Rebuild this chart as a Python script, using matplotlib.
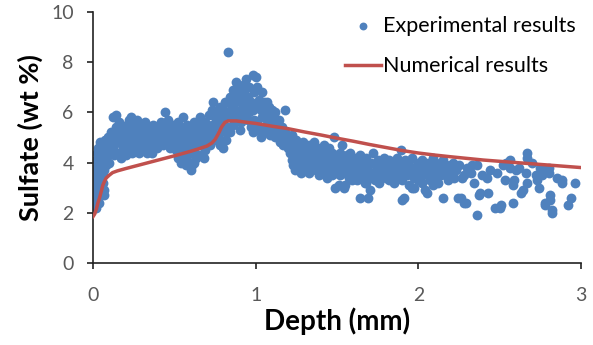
import numpy as np
import matplotlib
matplotlib.use("Agg")
import matplotlib.pyplot as plt

exp_points = [
    # 0 - 0.1 mm
    (0.00, 2.3), (0.005, 2.6), (0.01, 2.9), (0.01, 3.4), (0.015, 2.2), (0.015, 3.8),
    (0.02, 3.1), (0.02, 4.1), (0.02, 3.6), (0.025, 4.4), (0.025, 2.7), (0.03, 3.3),
    (0.03, 3.9), (0.03, 4.6), (0.035, 2.4), (0.035, 3.0), (0.04, 4.2), (0.04, 3.6),
    (0.04, 4.8), (0.045, 3.3), (0.045, 4.0), (0.05, 2.7), (0.05, 4.5), (0.05, 3.8),
    (0.055, 4.3), (0.06, 3.5), (0.06, 4.7), (0.06, 4.0), (0.065, 2.9), (0.07, 2.7),
    (0.07, 4.4), (0.07, 3.7), (0.075, 4.9), (0.08, 4.2), (0.08, 3.9), (0.085, 4.6),
    (0.09, 4.3), (0.09, 5.0), (0.095, 4.0), (0.1, 4.5), (0.1, 4.8), (0.03, 4.3),
    (0.05, 4.1), (0.06, 3.2), (0.04, 2.9),
    # 0.1 - 0.5 mm
    (0.11, 5.2), (0.12, 5.8), (0.12, 4.6), (0.13, 5.0), (0.13, 4.3), (0.14, 5.4),
    (0.14, 4.8), (0.15, 5.1), (0.15, 4.4), (0.16, 5.6), (0.16, 4.9), (0.17, 4.2),
    (0.17, 5.3), (0.18, 5.4), (0.18, 4.7), (0.19, 5.0), (0.19, 4.5), (0.2, 5.2),
    (0.2, 4.3), (0.21, 5.5), (0.21, 4.9), (0.22, 5.7), (0.22, 4.6), (0.23, 5.8),
    (0.23, 5.1), (0.24, 5.3), (0.24, 4.4), (0.25, 5.6), (0.25, 4.8), (0.26, 5.0),
    (0.26, 5.4), (0.27, 4.6), (0.27, 5.7), (0.28, 4.4), (0.28, 5.2), (0.29, 4.9),
    (0.29, 5.5), (0.3, 5.1), (0.3, 4.7), (0.31, 5.3), (0.31, 4.5), (0.32, 5.6),
    (0.32, 4.9), (0.33, 5.0), (0.33, 4.4), (0.34, 5.2), (0.34, 4.7), (0.35, 5.4),
    (0.35, 4.5), (0.36, 4.9), (0.36, 4.4), (0.37, 5.1), (0.37, 5.5), (0.38, 4.8),
    (0.38, 5.3), (0.39, 4.6), (0.39, 5.0), (0.4, 5.2), (0.4, 4.8), (0.41, 5.4),
    (0.41, 4.9), (0.42, 5.6), (0.42, 5.1), (0.43, 5.3), (0.43, 4.7), (0.44, 6.0),
    (0.44, 5.5), (0.45, 5.2), (0.45, 4.9), (0.46, 5.7), (0.46, 5.0), (0.47, 5.4),
    (0.47, 4.6), (0.48, 5.1), (0.48, 4.8), (0.49, 4.9), (0.49, 5.5), (0.5, 5.3),
    (0.5, 4.7), (0.14, 5.9),
    # 0.5 - 0.75 mm
    (0.51, 5.0), (0.51, 4.5), (0.52, 5.6), (0.52, 4.2), (0.53, 5.2), (0.53, 4.8),
    (0.54, 5.4), (0.54, 4.0), (0.55, 5.8), (0.55, 4.2), (0.55, 5.0), (0.56, 4.6),
    (0.56, 5.3), (0.57, 4.9), (0.57, 4.4), (0.58, 4.1), (0.58, 5.5), (0.59, 4.7),
    (0.59, 5.1), (0.6, 3.7), (0.6, 4.4), (0.6, 5.3), (0.61, 3.9), (0.61, 4.9),
    (0.62, 5.6), (0.62, 4.6), (0.63, 5.2), (0.63, 4.2), (0.64, 5.0), (0.64, 5.5),
    (0.65, 4.7), (0.65, 4.3), (0.66, 5.8), (0.66, 5.1), (0.67, 4.9), (0.67, 5.4),
    (0.68, 4.2), (0.68, 5.0), (0.69, 4.5), (0.69, 5.6), (0.7, 5.2), (0.7, 4.8),
    (0.71, 5.4), (0.71, 5.9), (0.72, 5.0), (0.72, 4.7), (0.73, 5.5), (0.73, 6.1),
    (0.74, 6.4), (0.74, 5.2), (0.75, 5.8), (0.75, 4.9), (0.62, 4.0), (0.57, 3.9),
    # 0.75 - 1.0 mm
    (0.76, 5.5), (0.76, 6.0), (0.77, 5.0), (0.77, 5.7), (0.78, 4.7), (0.78, 6.2),
    (0.79, 5.3), (0.79, 5.9), (0.8, 4.6), (0.8, 6.1), (0.8, 5.6), (0.81, 5.2),
    (0.81, 6.4), (0.82, 5.8), (0.82, 4.9), (0.83, 8.4), (0.83, 6.0), (0.83, 5.4),
    (0.84, 5.2), (0.84, 6.6), (0.85, 5.9), (0.85, 6.3), (0.86, 5.5), (0.86, 6.9),
    (0.87, 6.1), (0.87, 5.7), (0.88, 7.2), (0.88, 6.4), (0.89, 5.8), (0.89, 6.7),
    (0.9, 6.0), (0.9, 7.0), (0.91, 5.6), (0.91, 6.5), (0.92, 6.2), (0.92, 7.1),
    (0.93, 5.9), (0.93, 6.8), (0.94, 7.35), (0.94, 6.3), (0.95, 5.7), (0.95, 6.6),
    (0.96, 6.0), (0.96, 7.0), (0.97, 5.4), (0.97, 6.4), (0.98, 7.5), (0.98, 5.2),
    (0.98, 6.1), (0.99, 6.8), (0.99, 5.7), (1.0, 7.4), (1.0, 6.3), (1.0, 5.5),
    (0.9, 5.3),
    # 1.0 - 1.2 mm
    (1.01, 5.6), (1.01, 7.0), (1.02, 6.5), (1.02, 5.3), (1.03, 6.1), (1.03, 5.0),
    (1.04, 6.8), (1.04, 5.8), (1.05, 6.4), (1.05, 5.4), (1.06, 6.0), (1.06, 5.2),
    (1.07, 6.4), (1.07, 5.7), (1.08, 6.2), (1.08, 5.5), (1.09, 5.9), (1.09, 5.1),
    (1.1, 6.1), (1.1, 5.6), (1.11, 5.3), (1.11, 5.8), (1.12, 6.0), (1.12, 5.0),
    (1.13, 5.5), (1.13, 5.2), (1.14, 5.0), (1.14, 5.7), (1.15, 5.3), (1.15, 4.8),
    (1.16, 5.4), (1.17, 5.1), (1.17, 4.7), (1.18, 6.1), (1.18, 5.2), (1.19, 4.9),
    (1.2, 4.6), (1.2, 5.0),
    # 1.2 - 1.5 mm
    (1.21, 4.8), (1.21, 4.4), (1.22, 5.1), (1.22, 4.1), (1.23, 4.6), (1.23, 3.9),
    (1.24, 4.2), (1.24, 3.7), (1.25, 4.9), (1.25, 4.4), (1.26, 4.0), (1.26, 4.7),
    (1.27, 3.8), (1.27, 4.3), (1.28, 4.5), (1.28, 3.6), (1.29, 4.1), (1.29, 4.8),
    (1.3, 3.7), (1.3, 4.4), (1.31, 4.0), (1.31, 4.6), (1.32, 3.9), (1.32, 4.3),
    (1.33, 4.7), (1.33, 3.6), (1.34, 4.2), (1.34, 4.5), (1.35, 3.8), (1.35, 4.0),
    (1.36, 4.8), (1.36, 4.4), (1.37, 3.7), (1.37, 4.1), (1.38, 4.6), (1.38, 3.9),
    (1.39, 4.3), (1.39, 3.5), (1.4, 4.0), (1.4, 4.5), (1.41, 3.8), (1.41, 4.2),
    (1.42, 4.7), (1.42, 3.6), (1.43, 4.1), (1.43, 3.9), (1.44, 4.4), (1.44, 3.4),
    (1.45, 4.0), (1.45, 4.6), (1.46, 3.7), (1.46, 4.2), (1.47, 3.5), (1.47, 4.4),
    (1.48, 5.0), (1.48, 3.9), (1.49, 3.0), (1.49, 4.1), (1.5, 3.6), (1.5, 4.3),
    # 1.5 - 2.0 mm
    (1.51, 3.1), (1.51, 4.0), (1.52, 3.5), (1.52, 4.4), (1.53, 4.7), (1.53, 3.8),
    (1.54, 3.0), (1.54, 4.1), (1.55, 3.1), (1.55, 3.6), (1.56, 4.3), (1.56, 3.9),
    (1.57, 3.4), (1.57, 4.0), (1.58, 3.7), (1.58, 4.4), (1.59, 3.3), (1.59, 4.1),
    (1.6, 3.8), (1.6, 3.5), (1.61, 4.2), (1.61, 3.6), (1.62, 3.9), (1.62, 3.3),
    (1.63, 4.0), (1.63, 3.6), (1.64, 2.6), (1.64, 4.3), (1.65, 3.4), (1.65, 3.8),
    (1.66, 4.1), (1.66, 3.5), (1.67, 3.2), (1.67, 3.9), (1.68, 3.2), (1.68, 4.2),
    (1.69, 2.6), (1.69, 3.7), (1.7, 2.9), (1.7, 3.4), (1.71, 4.0), (1.72, 4.4),
    (1.72, 3.6), (1.73, 3.3), (1.74, 3.9), (1.74, 3.5), (1.75, 4.1), (1.76, 3.2),
    (1.76, 3.7), (1.77, 4.0), (1.78, 3.5), (1.78, 3.8), (1.79, 4.2), (1.8, 3.4),
    (1.8, 3.9), (1.81, 3.6), (1.82, 4.1), (1.82, 3.3), (1.83, 3.8), (1.84, 3.5),
    (1.85, 4.0), (1.85, 3.2), (1.86, 3.7), (1.87, 4.2), (1.87, 3.4), (1.88, 3.9),
    (1.89, 4.5), (1.89, 3.6), (1.9, 2.5), (1.9, 3.3), (1.91, 2.6), (1.91, 3.8),
    (1.92, 4.1), (1.93, 3.5), (1.94, 3.9), (1.94, 3.1), (1.95, 3.7), (1.96, 3.0),
    (1.96, 4.2), (1.97, 3.0), (1.97, 3.4), (1.98, 3.8), (1.99, 3.6), (2.0, 4.0),
    (2.0, 3.3),
    # 2.0 - 3.0 mm
    (2.01, 3.7), (2.02, 3.2), (2.02, 4.1), (2.03, 3.5), (2.04, 3.9), (2.04, 2.9),
    (2.05, 2.8), (2.05, 3.6), (2.06, 4.0), (2.07, 3.3), (2.07, 3.8), (2.08, 3.5),
    (2.09, 4.2), (2.09, 3.1), (2.1, 3.7), (2.11, 3.4), (2.11, 4.0), (2.12, 3.2),
    (2.13, 3.8), (2.14, 3.5), (2.15, 2.6), (2.15, 4.1), (2.16, 3.6), (2.17, 3.9),
    (2.18, 3.3), (2.19, 3.6), (2.2, 3.9), (2.21, 4.0), (2.22, 3.4), (2.23, 3.7),
    (2.24, 2.6), (2.25, 3.9), (2.26, 2.6), (2.27, 3.4), (2.28, 2.4), (2.28, 3.5),
    (2.29, 2.4), (2.3, 3.8), (2.32, 3.6), (2.33, 3.9), (2.34, 3.2), (2.36, 1.9),
    (2.36, 3.9), (2.37, 2.7), (2.38, 2.8), (2.39, 3.5), (2.42, 3.4), (2.43, 2.8),
    (2.44, 3.7), (2.47, 2.2), (2.48, 3.6), (2.5, 2.2), (2.51, 2.3), (2.52, 3.9),
    (2.53, 3.3), (2.54, 4.0), (2.56, 4.1), (2.56, 3.8), (2.58, 3.1), (2.58, 2.4),
    (2.59, 3.3), (2.6, 3.7), (2.62, 3.8), (2.63, 2.8), (2.64, 2.9), (2.66, 3.6),
    (2.67, 4.4), (2.67, 4.2), (2.67, 3.2), (2.7, 4.0), (2.72, 3.5), (2.73, 3.3),
    (2.74, 3.0), (2.75, 3.8), (2.76, 3.5), (2.78, 3.7), (2.78, 2.4), (2.78, 2.3),
    (2.8, 3.8), (2.8, 3.6), (2.81, 2.7), (2.81, 2.5), (2.82, 2.1), (2.82, 2.0),
    (2.85, 3.4), (2.88, 3.3), (2.88, 3.2), (2.92, 2.3), (2.94, 2.6), (2.96, 3.2),
]

# model curve
num_depth = [0.0, 0.01, 0.02, 0.03, 0.04, 0.05, 0.06, 0.07, 0.08, 0.1, 0.12, 0.15,
             0.2, 0.3, 0.4, 0.5, 0.6, 0.65, 0.7, 0.73, 0.75, 0.77, 0.79, 0.81, 0.83,
             0.88, 0.95, 1.0, 1.1, 1.2, 1.3, 1.4, 1.5, 1.6, 1.7, 1.8, 1.9, 2.0, 2.1,
             2.2, 2.4, 2.6, 2.8, 3.0]
num_sulfate = [1.85, 1.95, 2.15, 2.4, 2.6, 2.85, 3.1, 3.25, 3.38, 3.5, 3.6, 3.67,
               3.76, 3.93, 4.1, 4.27, 4.45, 4.55, 4.66, 4.78, 4.92, 5.15, 5.42, 5.6, 5.66,
               5.66, 5.6, 5.56, 5.45, 5.35, 5.22, 5.1, 4.97, 4.85, 4.72, 4.6, 4.48, 4.38, 4.3,
               4.23, 4.1, 4.0, 3.9, 3.8]

xticks = [0, 1, 2, 3]
yticks = [0, 2, 4, 6, 8, 10]

plt.rcParams['font.family'] = ['Lato', 'DejaVu Sans']

pts = np.array(exp_points)
fig = plt.figure(figsize=(5.93, 3.45), dpi=100)
ax = fig.add_axes([0.157, 0.238, 0.823, 0.727])

ax.scatter(pts[:, 0], pts[:, 1], s=50, color='#4F81BD', linewidths=0,
           label='Experimental results', zorder=2)
ax.plot(num_depth, num_sulfate, color='#C0504D', lw=2.5, label='Numerical results', zorder=3)

ax.set_xlim(0, 3)
ax.set_ylim(0, 10)
ax.set_xticks(xticks)
ax.set_yticks(yticks)
for s in ['top', 'right']:
    ax.spines[s].set_visible(False)
for s in ['left', 'bottom']:
    ax.spines[s].set_color('#222222')
    ax.spines[s].set_linewidth(1.2)
ax.tick_params(direction='out', length=4, width=1.2, color='#222222',
               labelsize=14, labelcolor='#595959')
ax.tick_params(axis='x', pad=13)
ax.tick_params(axis='y', pad=10)

ax.set_xlabel('Depth (mm)', fontsize=20, fontweight='bold', labelpad=3)
ax.set_ylabel('Sulfate (wt %)', fontsize=19.5, fontweight='bold', labelpad=6)

leg = fig.legend(loc='upper left', bbox_to_anchor=(345 / 593, 1 - 16 / 345),
                 frameon=False, fontsize=15.5, borderpad=0, borderaxespad=0,
                 handlelength=1.65, handletextpad=0.1, labelspacing=0.95,
                 scatterpoints=1, markerscale=0.8)

fig.savefig('out.png', dpi=100)
